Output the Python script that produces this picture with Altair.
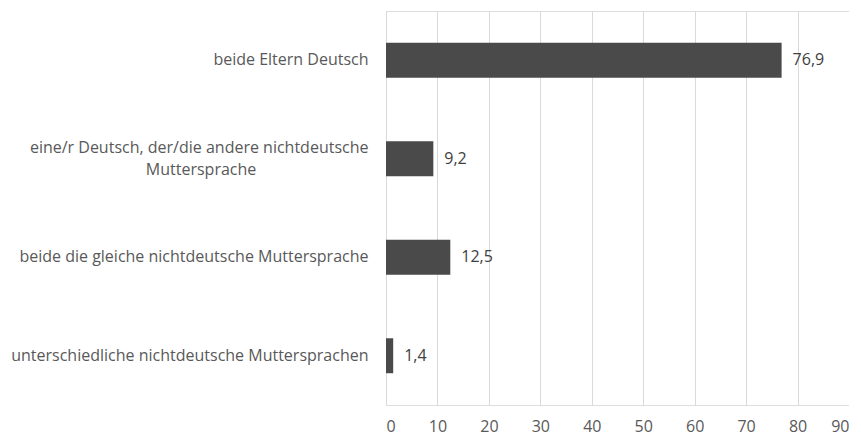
import altair as alt
import pandas as pd

categories = [
    "beide Eltern Deutsch",
    "eine/r Deutsch, der/die andere nichtdeutsche Muttersprache",
    "beide die gleiche nichtdeutsche Muttersprache",
    "unterschiedliche nichtdeutsche Muttersprachen",
]
values = [76.9, 9.2, 12.5, 1.4]
x_ticks = [0, 10, 20, 30, 40, 50, 60, 70, 80, 90]

df = pd.DataFrame({"cat": categories, "val": values})

FONT = "Open Sans"
FS = 16
PAD = "\u00a0" * 27 + "\u200b"

label_expr = (
    "datum.value == '" + categories[1] + "' ? "
    "['eine/r Deutsch, der/die andere nichtdeutsche', 'Muttersprache" + PAD + "'] : datum.value"
)

y_enc = alt.Y(
    "cat:N",
    sort=categories,
    title=None,
    scale=alt.Scale(paddingInner=0.645, paddingOuter=0.3225),
    axis=alt.Axis(
        labelExpr=label_expr,
        labelFont=FONT,
        labelFontSize=FS,
        labelColor="#595959",
        labelPadding=18,
        labelLimit=420,
        labelLineHeight=22,
        labelOffset={"condition": {"test": "datum.value == '" + categories[1] + "'", "value": -11}, "value": 0},
        ticks=False,
        domain=True,
        domainColor="#d9d9d9",
        domainWidth=1,
    ),
)

x_enc = alt.X(
    "val:Q",
    title=None,
    scale=alt.Scale(domain=[0, 90], nice=False),
    axis=alt.Axis(
        values=x_ticks,
        labelFont=FONT,
        labelFontSize=FS,
        labelColor="#595959",
        labelPadding=13,
        ticks=False,
        domain=False,
        grid=True,
        gridColor="#d9d9d9",
        gridWidth=1,
    ),
)

bars = alt.Chart(df).mark_bar(color="#4a4a4a").encode(x=x_enc, y=y_enc)

text = (
    alt.Chart(df)
    .transform_calculate(lbl="replace(format(datum.val, '.1f'), '.', ',')")
    .mark_text(align="left", baseline="middle", dx=11, font=FONT, fontSize=FS, color="#404040")
    .encode(x="val:Q", y=alt.Y("cat:N", sort=categories), text="lbl:N")
)

chart = (
    alt.layer(bars, text)
    .properties(
        width=463,
        height=394,
        autosize=alt.AutoSizeParams(type="none"),
        padding={"left": 378, "top": 3, "right": 0, "bottom": 31},
    )
    .configure_view(stroke=None)
    .configure(background="white")
)

chart.save("out.html", embed_options={"renderer": "svg", "actions": False})
